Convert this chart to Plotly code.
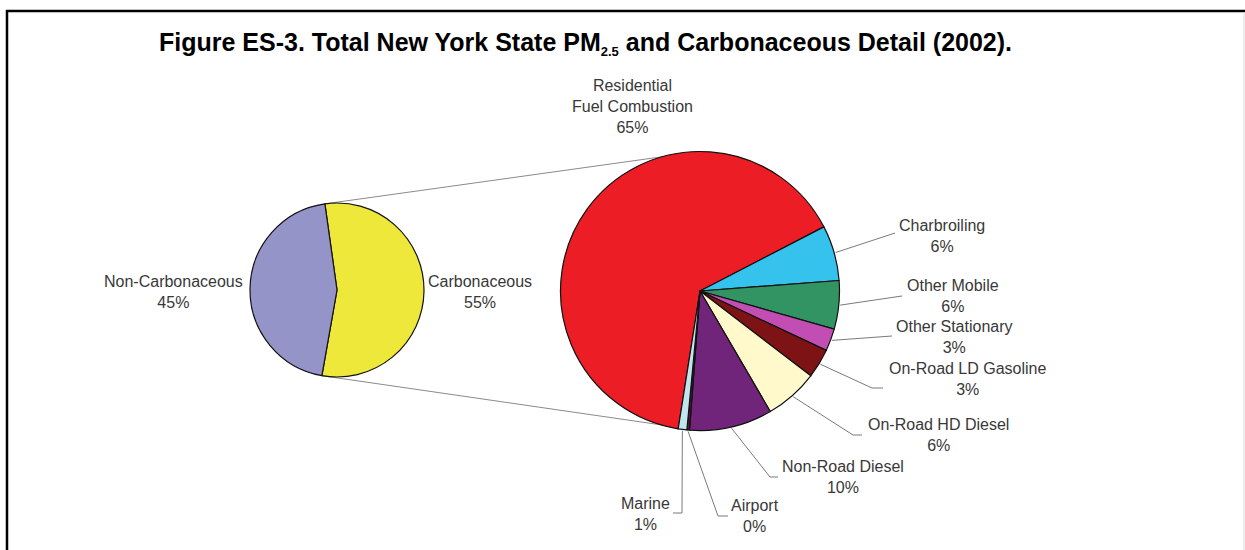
import math
import plotly.graph_objects as go

W, H = 1245, 550

# ---------------- data ----------------
overview_labels = ["Carbonaceous", "Non-Carbonaceous"]
overview_values = [55, 45]
overview_colors = ["#EEE83A", "#9594C9"]

detail_labels = ["Residential<br>Fuel Combustion", "Charbroiling", "Other Mobile",
                 "Other Stationary", "On-Road LD Gasoline", "On-Road HD Diesel",
                 "Non-Road Diesel", "Airport", "Marine"]
detail_values = [64.9, 6.4, 5.6, 2.6, 3.4, 6.2, 9.6, 0.3, 1.0]
detail_colors = ["#EC1D24", "#35C3EE", "#329462", "#C24EB4", "#7E1315",
                 "#FFF9CC", "#71257A", "#5A1040", "#BFE6EF"]

title_text = ("Figure ES-3. Total New York State PM"
              "<sub><span style='font-size:13px'>2.5</span></sub>"
              " and Carbonaceous Detail (2002).")

# ---------------- layout config (pixels) ----------------
LEFT = dict(cx=337, cy=290, r=87, rotation=-8)
RIGHT = dict(cx=700, cy=291, r=139.5, rotation=189)

overview_label_pos = {"Carbonaceous": (480, 292), "Non-Carbonaceous": (173, 292)}
detail_label_pos = {
    "Residential<br>Fuel Combustion": (632, 106),
    "Charbroiling": (942, 236),
    "Other Mobile": (953, 296),
    "Other Stationary": (954, 337),
    "On-Road LD Gasoline": (968, 379),
    "On-Road HD Diesel": (938, 435),
    "Non-Road Diesel": (843, 477),
    "Airport": (755, 516),
    "Marine": (645, 514),
}
leader_route = {
    "Charbroiling": [(895, 233)],
    "Other Mobile": [(902, 296)],
    "Other Stationary": [(892, 336)],
    "On-Road LD Gasoline": [(872, 388), (883, 388)],
    "On-Road HD Diesel": [(853, 435), (862, 435)],
    "Non-Road Diesel": [(770, 477), (778, 477)],
    "Airport": [(718, 516), (728, 516)],
    "Marine": [(682, 513), (673, 513)],
}

TEXT_FONT = dict(family="Liberation Sans, Arial, sans-serif", size=16, color="#383838")
LEADER_COLOR = "#7a7a7a"


def px(x):
    return x / W


def py(y):
    return 1 - y / H


def domain(g):
    return dict(x=[px(g["cx"] - g["r"]), px(g["cx"] + g["r"])],
                y=[py(g["cy"] + g["r"]), py(g["cy"] - g["r"])])


def slice_angles(values, rotation):
    """clockwise angles (deg from 12 o'clock) of slice starts/ends"""
    tot = sum(values)
    a = rotation
    out = []
    for v in values:
        span = 360 * v / tot
        out.append((a, a + span))
        a += span
    return out


def edge_point(g, ang, k=1.0):
    t = math.radians(ang)
    return (g["cx"] + k * g["r"] * math.sin(t), g["cy"] - k * g["r"] * math.cos(t))


fig = go.Figure()

fig.add_trace(go.Pie(
    labels=overview_labels, values=overview_values, sort=False,
    direction="clockwise", rotation=LEFT["rotation"], domain=domain(LEFT),
    marker=dict(colors=overview_colors, line=dict(color="#111111", width=1.2)),
    textinfo="none", hoverinfo="label+percent", showlegend=False,
))
fig.add_trace(go.Pie(
    labels=detail_labels, values=detail_values, sort=False,
    direction="clockwise", rotation=RIGHT["rotation"], domain=domain(RIGHT),
    marker=dict(colors=detail_colors, line=dict(color="#111111", width=1.2)),
    textinfo="none", hoverinfo="label+percent", showlegend=False,
))

shapes = []
annotations = []

# connector lines between pies (from the split edges of the carbonaceous slice)
ov_angles = slice_angles(overview_values, LEFT["rotation"])
carb_start, carb_end = ov_angles[0]
p_top = edge_point(LEFT, carb_start)
p_bot = edge_point(LEFT, carb_end)
q_top = (RIGHT["cx"], RIGHT["cy"] - RIGHT["r"])
q_bot = (RIGHT["cx"], RIGHT["cy"] + RIGHT["r"])
for p, q in [(p_top, q_top), (p_bot, q_bot)]:
    shapes.append(dict(type="line", xref="paper", yref="paper", layer="below",
                       x0=px(p[0]), y0=py(p[1]), x1=px(q[0]), y1=py(q[1]),
                       line=dict(color="#8a8a8a", width=1)))

# leader lines for detail slices
det_angles = slice_angles(detail_values, RIGHT["rotation"])
for lab, (a0, a1) in zip(detail_labels, det_angles):
    if lab not in leader_route:
        continue
    start = edge_point(RIGHT, (a0 + a1) / 2, 1.01)
    pts = [start] + leader_route[lab]
    path = "M " + " L ".join(f"{px(x):.5f},{py(y):.5f}" for x, y in pts)
    shapes.append(dict(type="path", xref="paper", yref="paper", layer="below",
                       path=path, line=dict(color=LEADER_COLOR, width=1)))

# labels
for lab, v in zip(overview_labels, overview_values):
    x, y = overview_label_pos[lab]
    annotations.append(dict(text=f"{lab}<br>{round(v)}%", x=px(x), y=py(y),
                            xref="paper", yref="paper", showarrow=False,
                            xanchor="center", yanchor="middle", font=TEXT_FONT))
for lab, v in zip(detail_labels, detail_values):
    x, y = detail_label_pos[lab]
    annotations.append(dict(text=f"{lab}<br>{round(v)}%", x=px(x), y=py(y),
                            xref="paper", yref="paper", showarrow=False,
                            xanchor="center", yanchor="middle", font=TEXT_FONT))

# title
annotations.append(dict(text=f"<b>{title_text}</b>", x=px(585), y=py(44),
                        xref="paper", yref="paper", showarrow=False,
                        xanchor="center", yanchor="middle",
                        font=dict(family="Liberation Sans, Arial, sans-serif",
                                  size=25, color="#000000")))

# frame
shapes.append(dict(type="line", xref="paper", yref="paper", x0=px(6), x1=1, y0=py(11), y1=py(11),
                   line=dict(color="#000000", width=2.5)))
shapes.append(dict(type="line", xref="paper", yref="paper", x0=px(7), x1=px(7), y0=py(10), y1=0,
                   line=dict(color="#000000", width=2.5)))
shapes.append(dict(type="line", xref="paper", yref="paper", x0=px(1244), x1=px(1244), y0=py(12), y1=0,
                   line=dict(color="#d8d8d8", width=1)))

fig.update_layout(
    width=W, height=H, autosize=False,
    margin=dict(l=0, r=0, t=0, b=0),
    paper_bgcolor="white", plot_bgcolor="white",
    shapes=shapes, annotations=annotations,
    showlegend=False,
)

fig.write_html("out.html")
